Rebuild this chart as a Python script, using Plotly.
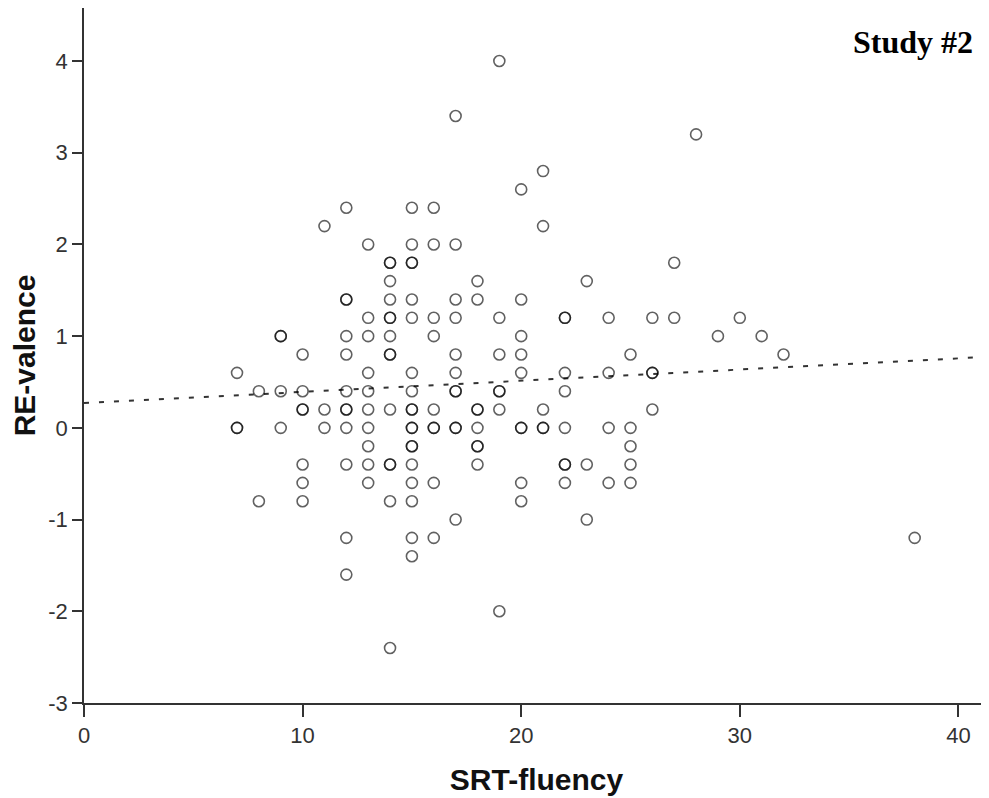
import plotly.graph_objects as go

# SRT-fluency value -> list of RE-valence values observed (duplicates = overlapping points)
fluency_cols = [7, 8, 9, 10, 11, 12, 13, 14, 15, 16, 17, 18, 19, 20, 21, 22, 23, 24, 25, 26, 27, 28, 29, 30, 31, 32, 38]
valence_cols = [
    [0.6, 0, 0],
    [0.4, -0.8],
    [1.0, 1.0, 0.4, 0],
    [0.8, 0.4, 0.2, 0.2, -0.4, -0.6, -0.8],
    [2.2, 0.2, 0],
    [2.4, 1.4, 1.4, 1.0, 0.8, 0.4, 0.2, 0.2, 0, -0.4, -1.2, -1.6],
    [2.0, 1.2, 1.0, 0.6, 0.4, 0.2, 0, -0.2, -0.4, -0.6],
    [1.8, 1.8, 1.6, 1.4, 1.2, 1.2, 1.0, 0.8, 0.8, 0.2, -0.4, -0.4, -0.8, -2.4],
    [2.4, 2.0, 1.8, 1.8, 1.4, 1.2, 0.6, 0.4, 0.2, 0.2, 0, 0, -0.2, -0.2, -0.4, -0.6, -0.8, -1.2, -1.4],
    [2.4, 2.0, 1.2, 1.0, 0.2, 0, 0, -0.6, -1.2],
    [3.4, 2.0, 1.4, 1.2, 0.8, 0.6, 0.4, 0.4, 0, 0, -1.0],
    [1.6, 1.4, 0.2, 0.2, 0, -0.2, -0.2, -0.4],
    [4.0, 1.2, 0.8, 0.4, 0.4, 0.2, -2.0],
    [2.6, 1.4, 1.0, 0.8, 0.6, 0, 0, -0.6, -0.8],
    [2.8, 2.2, 0.2, 0, 0],
    [1.2, 1.2, 0.6, 0.4, 0, -0.4, -0.4, -0.6],
    [1.6, -0.4, -1.0],
    [1.2, 0.6, 0, -0.6],
    [0.8, 0, -0.2, -0.4, -0.6],
    [1.2, 0.6, 0.6, 0.2],
    [1.8, 1.2],
    [3.2],
    [1.0],
    [1.2],
    [1.0],
    [0.8],
    [-1.2],
]

# Fit line: intercept and slope
fit_intercept = 0.27
fit_slope = 0.0122
fit_x = [0, 41.4]

x_ticks = [0, 10, 20, 30, 40]
x_tick_labels = ["0", "10", "20", "30", "40"]
y_ticks = [-3, -2, -1, 0, 1, 2, 3, 4]
y_tick_labels = ["-3", "-2", "-1", "0", "1", "2", "3", "4"]

xs, ys = [], []
for xv, col in zip(fluency_cols, valence_cols):
    for yv in col:
        xs.append(xv)
        ys.append(yv)

fig = go.Figure()
fig.add_trace(go.Scatter(
    x=fit_x, y=[fit_intercept + fit_slope * v for v in fit_x],
    mode="lines", line=dict(color="#333333", width=2, dash="5px,10px"),
    showlegend=False, hoverinfo="skip"))
fig.add_trace(go.Scatter(
    x=xs, y=ys, mode="markers",
    marker=dict(symbol="circle-open", size=11, color="rgba(0,0,0,0.62)",
                line=dict(width=1.6, color="rgba(0,0,0,0.62)")),
    showlegend=False))

axis_font = dict(family="Liberation Sans, Arial, sans-serif", size=22, color="#333333")
title_font = dict(family="Liberation Sans, Arial, sans-serif", size=30, color="#111111")
fig.update_layout(
    width=981, height=790,
    margin=dict(l=76, r=0, t=0, b=95),
    paper_bgcolor="white", plot_bgcolor="white",
    xaxis=dict(range=[0, 41.4], tickvals=x_ticks, ticktext=x_tick_labels, ticks="outside",
               ticklen=12, tickwidth=1.5,
               tickcolor="#333333", showline=True, linecolor="#333333", linewidth=1.5,
               showgrid=False, zeroline=False, tickfont=axis_font,
               title=dict(text="<b>SRT-fluency</b>", standoff=22, font=title_font)),
    yaxis=dict(range=[-3, 4.578], tickvals=y_ticks, ticktext=y_tick_labels, ticks="outside",
               ticklen=10, tickwidth=1.5,
               tickcolor="#333333", showline=True, linecolor="#333333", linewidth=1.5,
               showgrid=False, zeroline=False, tickfont=axis_font,
               title=dict(text="<b>RE-valence</b>", standoff=14, font=title_font)),
    annotations=[dict(text="<b>Study #2</b>", xref="paper", yref="paper", x=0.9845, y=0.951,
                      xanchor="right", yanchor="middle", showarrow=False,
                      font=dict(family="Liberation Serif, Times New Roman, serif", size=32, color="#000000"))],
)

fig.write_html("out.html")
